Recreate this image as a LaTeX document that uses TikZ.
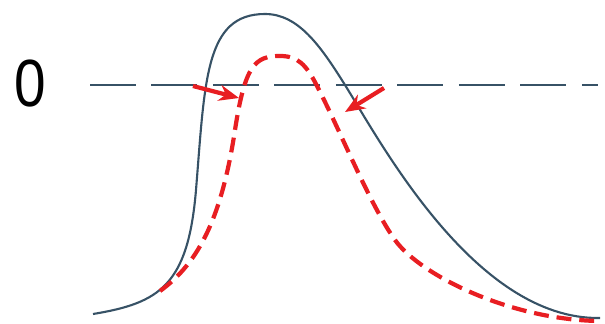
\documentclass[tikz,border=0pt]{standalone}
\usepackage{fontspec}
\setmainfont{Liberation Sans}
\usetikzlibrary{arrows.meta}
\definecolor{axisblue}{RGB}{55,82,102}
\definecolor{shiftred}{RGB}{232,30,34}

\begin{document}
\begin{tikzpicture}[x=0.02cm,y=-0.02cm]
\tikzset{
  zeroline/.style={draw=axisblue,line width=1.4pt,dash pattern=on 26pt off 9pt},
  apcurve/.style={draw=axisblue,line width=1.2pt,line join=round},
  shifted/.style={draw=shiftred,line width=2.4pt,dash pattern=on 8.5pt off 4.5pt},
  shiftarrow/.style={draw=shiftred,line width=2.4pt,-{Stealth[length=4mm,width=3.2mm]}},
  zerolabel/.style={font=\fontsize{38}{38}\selectfont,inner sep=0pt,xscale=0.85}
}
\useasboundingbox (0,0) rectangle (605,324);
\node[zerolabel] (n_zero) at (30,84) {0};
\coordinate (zl_start) at (90,85);
\coordinate (zl_end) at (598,85);
\draw[zeroline] (zl_start) -- (zl_end);
% measured response
\draw[apcurve] (93,314) .. controls (160,303) and (188,285) .. (196,190)
  .. controls (205,80) and (205,14) .. (265,14)
  .. controls (298,14) and (320,45) .. (345,85)
  .. controls (380,141) and (475,320) .. (600,318);
% shifted response
\draw[shifted] (160,291) .. controls (200,262) and (222,215) .. (235,130)
  .. controls (245,65) and (255,56) .. (280,56)
  .. controls (298,56) and (306,65) .. (316,84)
  .. controls (340,130) and (370,205) .. (395,240)
  .. controls (420,275) and (510,320) .. (600,321);
\coordinate (a1_from) at (193,86);
\coordinate (a1_to) at (239,98);
\coordinate (a2_from) at (384,88);
\coordinate (a2_to) at (345,112);
\draw[shiftarrow] (a1_from) -- (a1_to);
\draw[shiftarrow] (a2_from) -- (a2_to);
\end{tikzpicture}
\end{document}
